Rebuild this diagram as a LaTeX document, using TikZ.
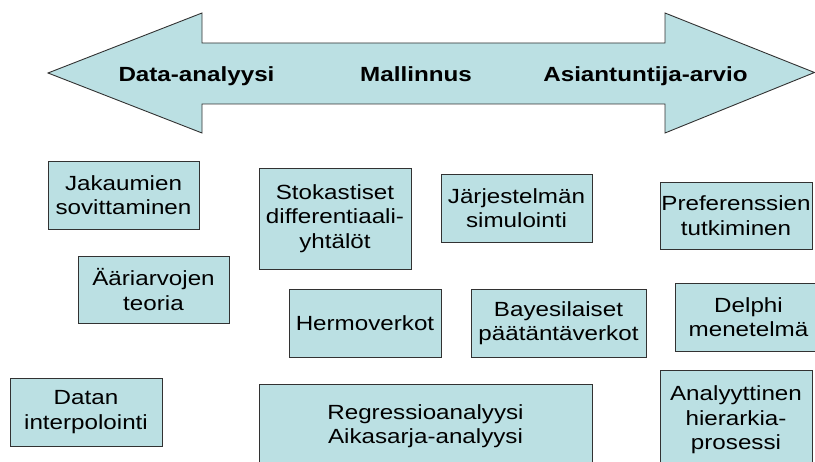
\documentclass[tikz,border=0pt]{standalone}
\usepackage{fontspec}
\newfontfamily\boxfont[FakeStretch=1.18]{Liberation Sans}
\definecolor{boxfill}{RGB}{187,224,227}
\definecolor{boxline}{RGB}{50,50,50}
\tikzset{
  boxnode/.style={draw=boxline, fill=boxfill, line width=0.9pt, inner sep=0pt, align=center,
    font=\boxfont\fontsize{20.5}{24.5}\selectfont},
  boxshape/.style={draw=boxline, fill=boxfill, line width=0.9pt},
  boxtext/.style={inner sep=0pt, align=center, font=\boxfont\fontsize{20.5}{24.5}\selectfont},
  arrowlabel/.style={inner sep=0pt, anchor=base, font=\boxfont\bfseries\fontsize{20.5}{24}\selectfont},
}
\begin{document}
\begin{tikzpicture}[x=1pt,y=-1pt]
\useasboundingbox (0,0) rectangle (815,462);
\clip (0,0) rectangle (815,462);
% double arrow
\draw[boxshape] (48,73) -- (202,13) -- (202,43) -- (665,43) -- (665,13) -- (814.5,72.5)
  -- (665,133) -- (665,104) -- (202,104) -- (202,133) -- cycle;
\node[arrowlabel] (da) at (196.5,81.7) {Data-analyysi};
\node[arrowlabel] (ma) at (416,81.7) {Mallinnus};
\node[arrowlabel] (aa) at (645.5,81.7) {Asiantuntija-arvio};
% boxes
\node[boxnode, minimum width=151pt, minimum height=68pt] (jak) at (123.5,195) {Jakaumien\\sovittaminen};
\node[boxnode, minimum width=151pt, minimum height=67pt] (aar) at (153.5,289.5) {Ääriarvojen\\teoria};
\node[boxnode, minimum width=152pt, minimum height=68pt] (dat) at (86,412) {Datan\\interpolointi};
\node[boxnode, minimum width=152pt, minimum height=101pt] (sto) at (335,218.5) {Stokastiset\\differentiaali-\\yhtälöt};
\node[boxnode, minimum width=151pt, minimum height=68pt] (jar) at (516.5,208) {Järjestelmän\\simulointi};
\node[boxnode, minimum width=152pt, minimum height=68pt] (her) at (365,323) {Hermoverkot};
\node[boxnode, minimum width=175pt, minimum height=68pt] (bay) at (558.5,323) {Bayesilaiset\\päätäntäverkot};
\node[boxnode, minimum width=152pt, minimum height=67pt] (pre) at (736,215.5) {Preferenssien\\tutkiminen};
% boxes running off the picture edge
\path[boxshape] (675,283) rectangle (822,351);
\node[boxtext] (del) at (748.5,317) {Delphi\\menetelmä};
\path[boxshape] (259,384) rectangle (592,470);
\node[boxtext] (reg) at (425.5,426) {Regressioanalyysi\\Aikasarja-analyysi};
\path[boxshape] (660,370) rectangle (812,475);
\node[boxtext] (ana) at (736,420) {Analyyttinen\\hierarkia-\\prosessi};
\end{tikzpicture}
\end{document}
